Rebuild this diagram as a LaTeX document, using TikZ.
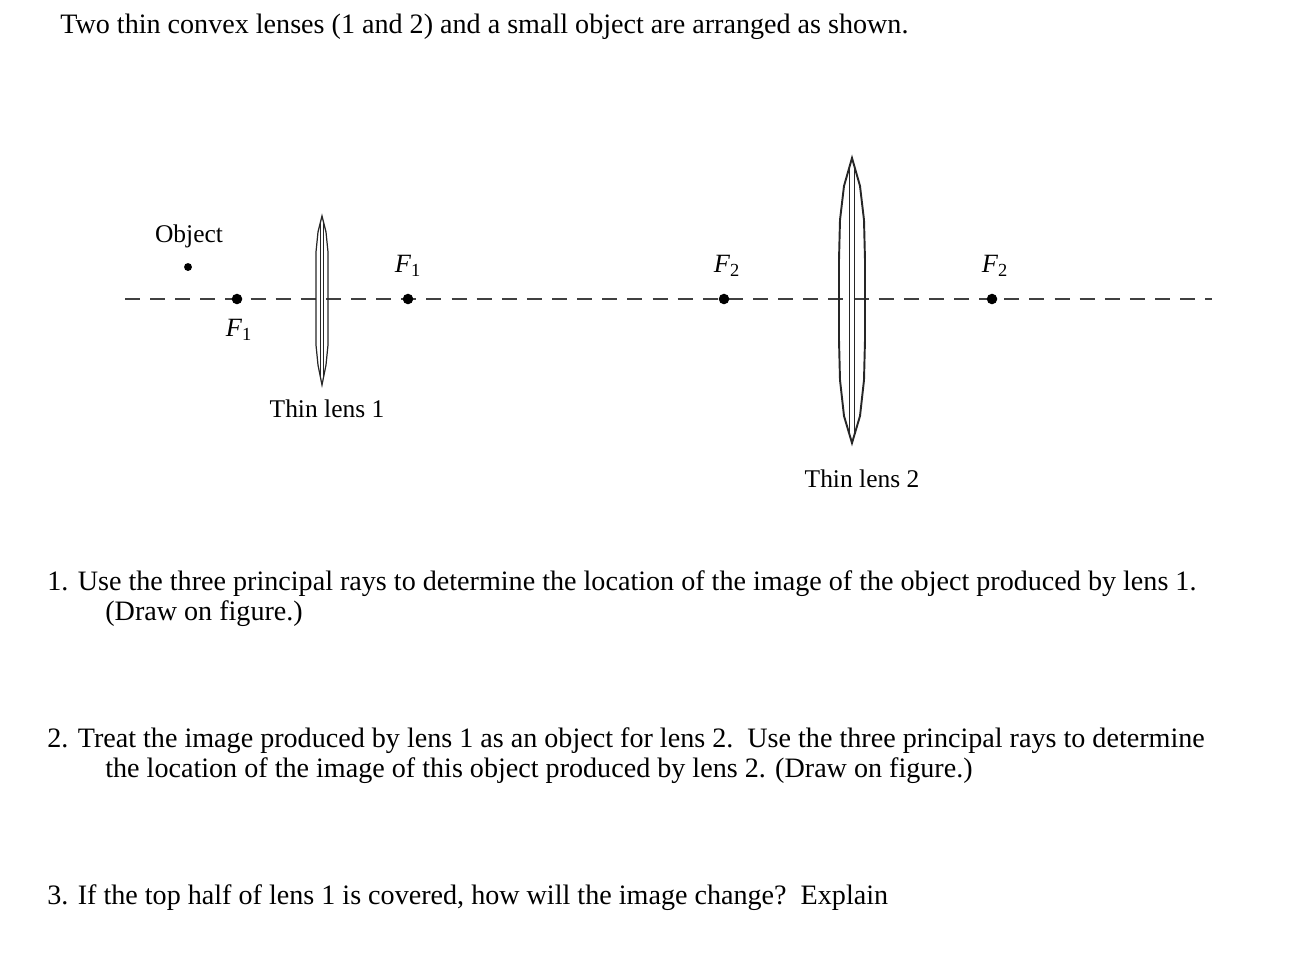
\documentclass[tikz,border=0pt]{standalone}
\usepackage{fontspec}
\setmainfont{Liberation Serif}
\begin{document}
\begin{tikzpicture}[x=0.02cm,y=-0.02cm,
  txt/.style={anchor=west,inner sep=0,font=\fontsize{16}{19}\selectfont},
  lbl/.style={inner sep=0,font=\fontsize{14.5}{17}\selectfont},
  flbl/.style={inner sep=0,font=\fontsize{15}{17}\selectfont},
  dot/.style={circle,fill=black,inner sep=0,minimum size=6pt},
  axis/.style={dash pattern=on 8.5pt off 5.8pt,line width=1.3pt,draw=black!75},
  lens/.style={line width=1.1pt,draw=black!85},
  lensthin/.style={line width=0.7pt,draw=black!85}]
\useasboundingbox (0,0) rectangle (1316,964);
\node[txt] (title) at (60,27) {Two thin convex lenses (1 and 2) and a small object are arranged as shown.};
% axis
\coordinate (aL) at (125,299); \coordinate (aR) at (1212,299);
\draw[axis] (aL) -- (aR);
% object
\node[lbl] (objl) at (189,236) {Object};
\node[dot,minimum size=4.5pt] (obj) at (188,267) {};
% focal points
\node[dot] (f1a) at (237,299) {};
\node[flbl] (f1al) at (239,330) {\textit{F}\textsubscript{1}};
\node[dot] (f1b) at (408,299) {};
\node[flbl] (f1bl) at (408,266) {\textit{F}\textsubscript{1}};
\node[dot] (f2a) at (724,299) {};
\node[flbl] (f2al) at (727,266) {\textit{F}\textsubscript{2}};
\node[dot] (f2b) at (992,299) {};
\node[flbl] (f2bl) at (995,266) {\textit{F}\textsubscript{2}};
% lens 1
\draw[lensthin] (322,216) -- (326,232) -- (328,252) -- (328,345) -- (326,365) -- (322,385) -- (318,365) -- (316,345) -- (316,252) -- (318,232) -- cycle;
\draw[lensthin] (320.3,222) -- (320.3,379) (323.7,222) -- (323.7,379);
\node[lbl] (l1) at (327,409) {Thin lens 1};
% lens 2
\draw[lens] (852,158) -- (860,186) -- (864,220) -- (865,260) -- (865,340) -- (864,380) -- (860,416) -- (852,443) -- (844,416) -- (840,380) -- (839,340) -- (839,260) -- (840,220) -- (844,186) -- cycle;
\draw[lens] (849.5,168) -- (849.5,433) (854.5,168) -- (854.5,433);
\node[lbl] (l2) at (862,479) {Thin lens 2};
% questions
\node[txt] (q1) at (47,584) {1. Use the three principal rays to determine the location of the image of the object produced by lens 1.};
\node[txt] (q1b) at (105,614) {(Draw on figure.)};
\node[txt] (q2) at (47,741) {2. Treat the image produced by lens 1 as an object for lens 2.\ \ Use the three principal rays to determine};
\node[txt] (q2b) at (105,771) {the location of the image of this object produced by lens 2. (Draw on figure.)};
\node[txt] (q3) at (47,898) {3. If the top half of lens 1 is covered, how will the image change?\ \ Explain};
\end{tikzpicture}
\end{document}
